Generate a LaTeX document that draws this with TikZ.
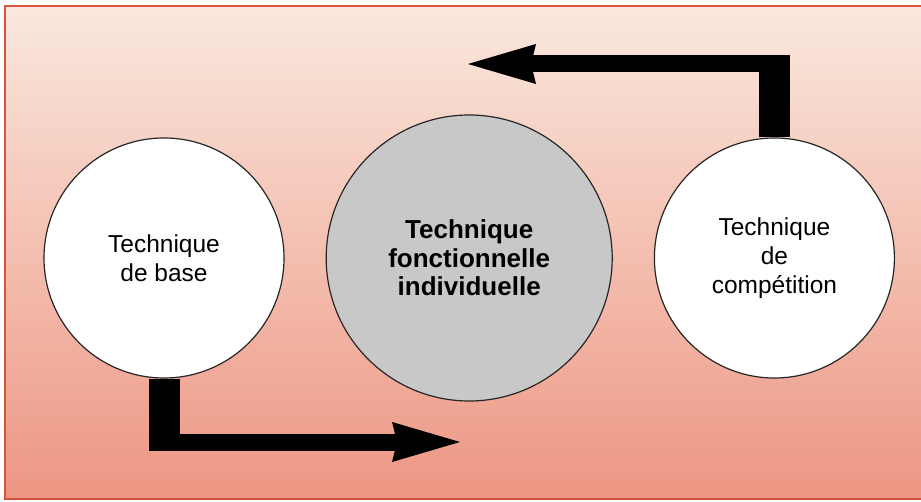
\documentclass[tikz,border=0pt]{standalone}
\usepackage{fontspec}
\setmainfont{Liberation Sans}
\usepackage{tikz}
\usetikzlibrary{arrows.meta,calc,positioning}
\definecolor{bgtop}{RGB}{250,232,222}
\definecolor{bgbottom}{RGB}{237,150,131}
\definecolor{frame}{RGB}{212,84,62}
\definecolor{disc}{RGB}{200,200,200}
\tikzset{
    x=1pt,y=-1pt,node distance =41pt and 41pt,
    stage/.style ={circle, draw=black!85, line width=1.2pt, fill=white, align=center, inner sep=0pt, minimum size=240pt, font=\fontsize{24.5}{29}\selectfont},
    core/.style ={stage, fill=disc, minimum size=286pt, font=\fontsize{26}{28.5}\selectfont\bfseries},
    shaft/.style={line width=31pt},
    flow/.style={line width=17pt, -{Stealth[length=68pt, width=40pt, inset=5pt, line width=0pt]}}
}

\begin{document}
\begin{tikzpicture}
    \useasboundingbox (0,0) rectangle (921,502);
%background
    \shade[top color=bgtop, bottom color=bgbottom] (5,6) rectangle (921,499);
    \draw[frame, line width=2pt] (921,6) -- (5,6) -- (5,499) -- (921,499);

    %%Nodes
    \node[stage] (base) at (164,258) {Technique\\de base};
    \node[core] (func) [right =of base] {Technique\\fonctionnelle\\individuelle};
    \node[stage] (comp) [right =of func] {Technique\\de\\compétition};

    %%Coordinates
    \coordinate (end1) at (460,442);
    \coordinate (end2) at (468,64);
    \coordinate (turn1) at ($(base.south |- end1)+(-15.5,0)$);
    \coordinate (turn2) at ($(comp.north |- end2)+(15.5,0)$);

    % Directed edge
    \draw[shaft] (base.south) -- ($(base.south |- end1)+(0,8.5)$);
    \draw[flow] (turn1) -- (end1);

    \draw[shaft] (comp.north) -- ($(comp.north |- end2)+(0,-8.5)$);
    \draw[flow] (turn2) -- (end2);
\end{tikzpicture}
\end{document}
